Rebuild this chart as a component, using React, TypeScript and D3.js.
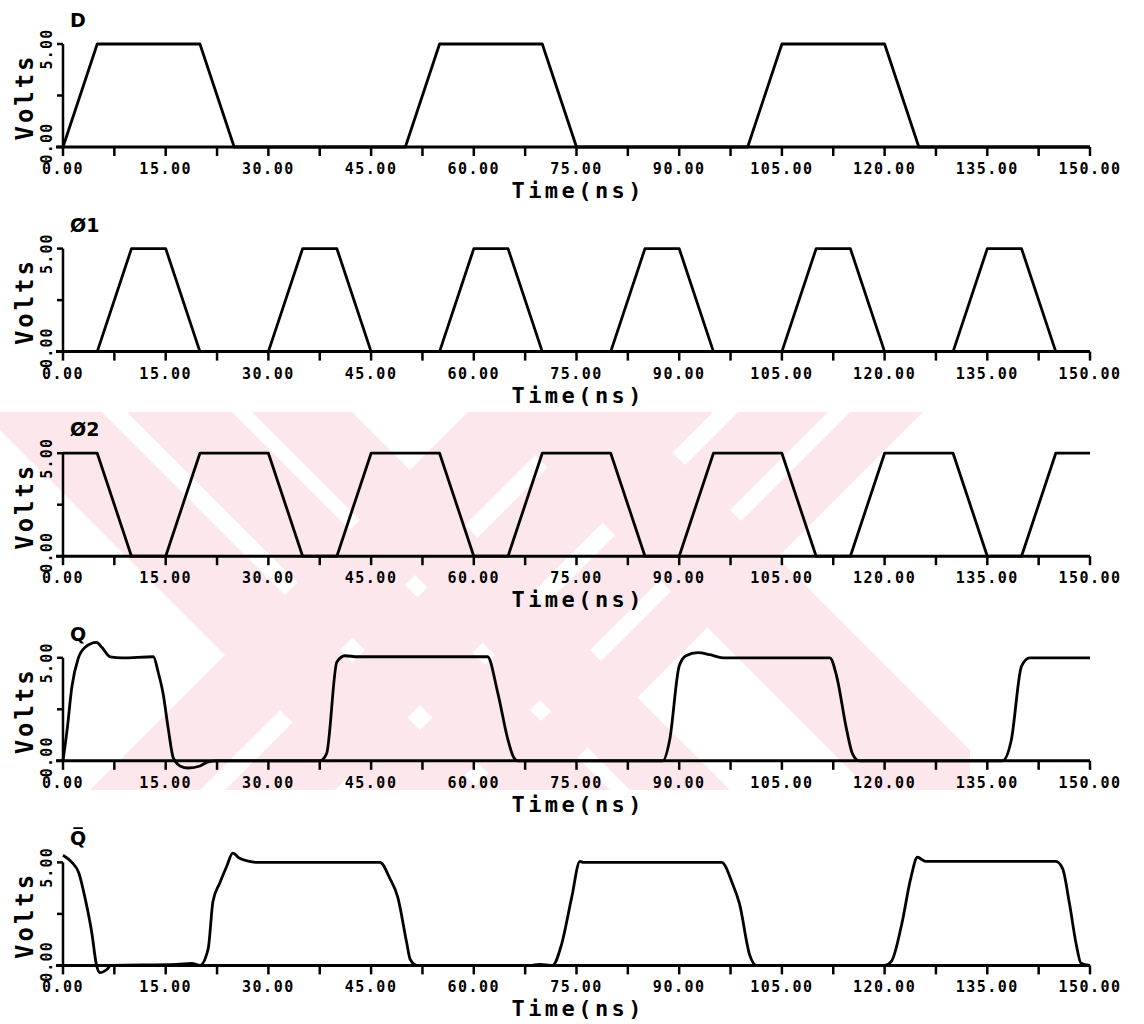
import React, { useRef, useEffect } from 'react';
import * as d3 from 'd3';

// panel titles
const panelTitles = ['D', 'Ø1', 'Ø2', 'Q', 'Q\u0305'];

// time ticks (ns)
const minorTicks = [0, 7.5, 15, 22.5, 30, 37.5, 45, 52.5, 60, 67.5, 75, 82.5, 90, 97.5, 105, 112.5, 120, 127.5, 135, 142.5, 150];
const labelTicks = [0, 15, 30, 45, 60, 75, 90, 105, 120, 135, 150];
const labelText = ['0.00', '15.00', '30.00', '45.00', '60.00', '75.00', '90.00', '105.00', '120.00', '135.00', '150.00'];
const voltTicks = [0, 2.5, 5];
const voltLabels = [[0, '0.00'], [5, '5.00']];

// D
const dTime = [0, 5, 20, 25, 50, 55, 70, 75, 100, 105, 120, 125, 150];
const dVolt = [0, 5, 5, 0, 0, 5, 5, 0, 0, 5, 5, 0, 0];

// phi1
const p1Time = [0, 5, 10, 15, 20, 30, 35, 40, 45, 55, 60, 65, 70, 80, 85, 90, 95, 105, 110, 115, 120, 130, 135, 140, 145, 150];
const p1Volt = [0, 0, 5, 5, 0, 0, 5, 5, 0, 0, 5, 5, 0, 0, 5, 5, 0, 0, 5, 5, 0, 0, 5, 5, 0, 0];

// phi2
const p2Time = [0, 5, 10, 15, 20, 30, 35, 40, 45, 55, 60, 65, 70, 80, 85, 90, 95, 105, 110, 115, 120, 130, 135, 140, 145, 150];
const p2Volt = [5, 5, 0, 0, 5, 5, 0, 0, 5, 5, 0, 0, 5, 5, 0, 0, 5, 5, 0, 0, 5, 5, 0, 0, 5, 5];

// Q
const qTime = [0, 0.6, 1.3, 2.2, 3.2, 4.9, 5.7, 6.9, 8.6, 13.2, 13.9, 14.6, 15.4, 16.1, 17.1, 18.3, 20, 21.2, 22.5, 37.5, 38.5, 40, 41.2, 43, 62, 63.5, 65, 65.7, 66.4, 87.6, 88.6, 90, 91, 92.7, 94.5, 96.4, 112, 113, 114.4, 115.3, 116.3, 137.2, 138.5, 140, 141.2, 150];
const qVolt = [0, 1.5, 3.6, 4.95, 5.5, 5.75, 5.5, 5.05, 5.0, 5.05, 4.3, 3.3, 1.5, 0.15, -0.25, -0.35, -0.25, -0.05, 0, 0, 0.35, 4.8, 5.1, 5.05, 5.05, 3.3, 1.0, 0.25, 0, 0, 1.0, 4.6, 5.1, 5.25, 5.15, 5.0, 5.0, 4.1, 1.6, 0.35, 0, 0, 1.0, 4.6, 5.0, 5.0];

// Q bar
const qbTime = [0, 1.3, 2.3, 3.2, 4.2, 4.9, 5.4, 6.4, 7, 16.6, 18.8, 20, 21.2, 21.9, 22.9, 23.9, 24.8, 25.8, 27.3, 28.3, 46.3, 47.7, 48.9, 50.2, 50.7, 51.7, 68.2, 69.6, 71.5, 72.8, 74.3, 75.5, 76, 96.2, 97.8, 98.8, 100.3, 101.3, 120, 121, 122.5, 123.8, 124.8, 126, 145, 146, 147, 148, 148.7, 150];
const qbVolt = [5.35, 5.0, 4.5, 3.3, 1.6, 0, -0.35, -0.2, 0, 0.05, 0.1, 0, 0.8, 3.1, 4.0, 4.8, 5.45, 5.2, 5.05, 5.0, 5.0, 4.25, 3.3, 1.1, 0.3, 0, 0, 0.05, 0, 1.0, 3.3, 5.05, 5.0, 5.0, 3.95, 3.0, 0.5, 0, 0, 0.2, 2, 4.2, 5.25, 5.05, 5.05, 4.7, 3, 1, 0.1, 0];

const series = [
  { t: dTime, v: dVolt, smooth: false },
  { t: p1Time, v: p1Volt, smooth: false },
  { t: p2Time, v: p2Volt, smooth: false },
  { t: qTime, v: qVolt, smooth: true },
  { t: qbTime, v: qbVolt, smooth: true },
];

// faint background watermark bands of the scanned page: [direction, from, to]
const watermarkBands = [
  ['\\', -430, -310], ['\\', -285, -180], ['\\', -160, -60], ['\\', 80, 220],
  ['/', 880, 990], ['/', 1015, 1125], ['/', 1150, 1240], ['/', 1262, 1335],
];

const W = 1144;
const H = 1024;

const WaveformChart = () => {
  const svgRef = useRef();

  useEffect(() => {
    const svg = d3.select(svgRef.current);
    svg.selectAll('*').remove();

    // watermark
    svg.append('clipPath').attr('id', 'wm-clip')
      .append('rect').attr('x', 0).attr('y', 412).attr('width', 970).attr('height', 378);
    svg.append('g')
      .attr('clip-path', 'url(#wm-clip)')
      .selectAll('polygon')
      .data(watermarkBands)
      .join('polygon')
      .attr('fill', '#fce8ec')
      .attr('points', ([dir, a, b]) => dir === '\\'
        ? `${a + 400},400 ${b + 400},400 ${b + 800},800 ${a + 800},800`
        : `${a - 400},400 ${b - 400},400 ${b - 800},800 ${a - 800},800`);

    const x = d3.scaleLinear().domain([0, 150]).range([63, 1090]);
    const panelTop = 44;
    const panelStep = 204.6;
    const panelH = 103;
    const mono = '"DejaVu Sans Mono", monospace';

    series.forEach((s, i) => {
      const top = panelTop + i * panelStep;
      const y = d3.scaleLinear().domain([0, 5]).range([top + panelH, top]);
      const g = svg.append('g');
      const base = y(0);

      // title
      g.append('text')
        .attr('x', 70)
        .attr('y', top - 17)
        .attr('font-family', '"DejaVu Sans", sans-serif')
        .attr('font-weight', 'bold')
        .attr('font-size', 19)
        .text(panelTitles[i]);

      // x axis line
      g.append('line')
        .attr('x1', 56).attr('x2', x(150))
        .attr('y1', base).attr('y2', base)
        .attr('stroke', '#000').attr('stroke-width', 3);

      // y axis line
      g.append('line')
        .attr('x1', x(0)).attr('x2', x(0))
        .attr('y1', y(5)).attr('y2', base)
        .attr('stroke', '#000').attr('stroke-width', 2.5);

      g.selectAll('.yt')
        .data(voltTicks)
        .join('line')
        .attr('x1', x(0) - 6).attr('x2', x(0))
        .attr('y1', d => y(d)).attr('y2', d => y(d))
        .attr('stroke', '#000').attr('stroke-width', 2.5);

      g.selectAll('.xt')
        .data(minorTicks)
        .join('line')
        .attr('x1', d => x(d)).attr('x2', d => x(d))
        .attr('y1', base).attr('y2', base + 9)
        .attr('stroke', '#000').attr('stroke-width', 2.5);

      g.selectAll('.xl')
        .data(labelTicks)
        .join('text')
        .attr('x', d => x(d))
        .attr('y', base + 27)
        .attr('text-anchor', 'middle')
        .attr('font-family', mono)
        .attr('font-weight', 'bold')
        .attr('font-size', 15)
        .attr('letter-spacing', 1.5)
        .text((d, k) => labelText[k]);

      g.selectAll('.yl')
        .data(voltLabels)
        .join('text')
        .attr('transform', d => `translate(52,${y(d[0]) + (d[0] === 0 ? -4 : 5)}) rotate(-90)`)
        .attr('text-anchor', 'middle')
        .attr('font-family', mono)
        .attr('font-weight', 'bold')
        .attr('font-size', 15)
        .attr('letter-spacing', 1.2)
        .text(d => d[1]);

      g.append('text')
        .attr('transform', `translate(33,${(y(0) + y(5)) / 2 + 3}) rotate(-90)`)
        .attr('text-anchor', 'middle')
        .attr('font-family', mono)
        .attr('font-weight', 'bold')
        .attr('font-size', 24)
        .attr('textLength', 84)
        .attr('lengthAdjust', 'spacing')
        .text('Volts');

      g.append('text')
        .attr('x', (x(0) + x(150)) / 2)
        .attr('y', base + 51)
        .attr('text-anchor', 'middle')
        .attr('font-family', mono)
        .attr('font-weight', 'bold')
        .attr('font-size', 22)
        .attr('textLength', 130)
        .attr('lengthAdjust', 'spacing')
        .text('Time(ns)');

      // waveform
      const pts = s.t.map((t, k) => [t, s.v[k]]);
      const line = d3.line()
        .x(d => x(d[0]))
        .y(d => y(d[1]))
        .curve(s.smooth ? d3.curveMonotoneX : d3.curveLinear);

      g.append('path')
        .datum(pts)
        .attr('d', line)
        .attr('fill', 'none')
        .attr('stroke', '#000')
        .attr('stroke-width', 2.8)
        .attr('stroke-linejoin', 'round');
    });
  }, []);

  return (
    <svg ref={svgRef} width={W} height={H}
      style={{ position: 'absolute', left: 0, top: 0, background: '#fff' }} />
  );
};

export default function App() {
  return <WaveformChart />;
}
